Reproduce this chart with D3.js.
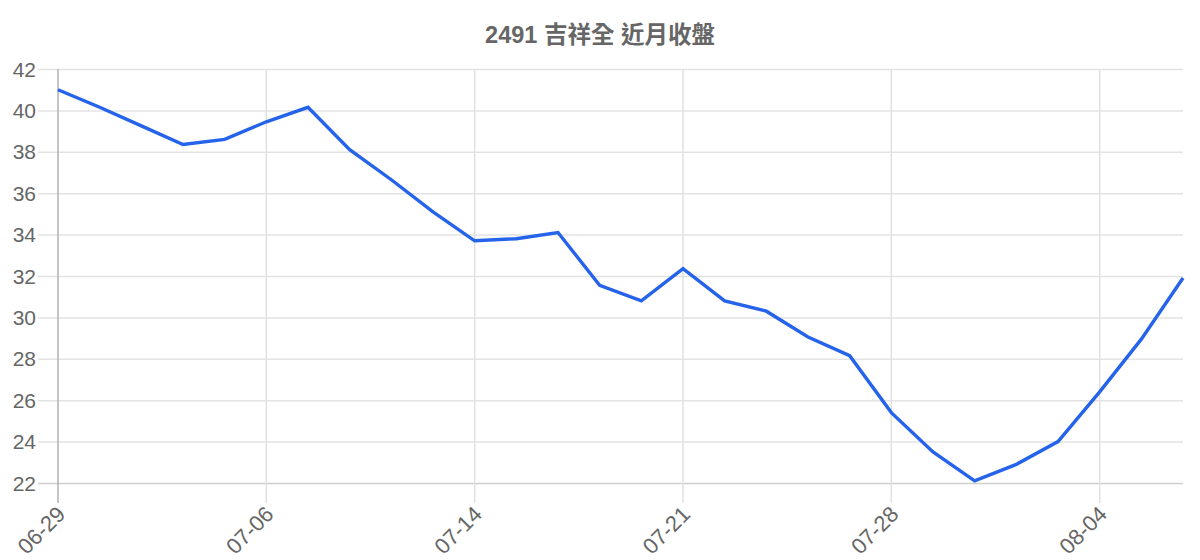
<!DOCTYPE html>
<html><head><meta charset="utf-8">
<script src="https://cdn.jsdelivr.net/npm/d3@7"></script>
<style>body{margin:0;background:#fff;} svg{display:block;}</style>
</head><body>
<svg id="c" width="1200" height="560"></svg>
<script>
const titleText = "2491 吉祥全 近月收盤";
const dates = ["06-29","06-30","07-01","07-02","07-03","07-06","07-07","07-08","07-09","07-10",
  "07-14","07-15","07-16","07-17","07-20","07-21","07-22","07-23","07-24","07-27",
  "07-28","07-29","07-30","07-31","08-03","08-04","08-05","08-06"];
const closes = [41.0,40.15,39.25,38.35,38.6,39.45,40.15,38.1,36.65,35.1,
  33.7,33.8,34.1,31.55,30.8,32.35,30.8,30.3,29.05,28.15,
  25.4,23.5,22.1,22.9,24.0,26.4,28.95,31.9];
const yTicks = [22,24,26,28,30,32,34,36,38,40,42];
const xTickLabels = ["06-29","07-06","07-14","07-21","07-28","08-04"];

const svg = d3.select("#c");
const m = {l:58, r:1183, t:69, b:483};
const x = d3.scalePoint().domain(dates).range([m.l, m.r]);
const y = d3.scaleLinear().domain([22,42]).range([m.b, m.t]);
const font = "'Liberation Sans', Arial, 'Noto Sans CJK TC', sans-serif";

// horizontal grid
svg.append("g").selectAll("line").data(yTicks).join("line")
  .attr("x1", 38).attr("x2", m.r)
  .attr("y1", d=>y(d)+0.5).attr("y2", d=>y(d)+0.5)
  .attr("stroke", d=> d===22 ? "#cfcfcf" : "#e3e3e3").attr("stroke-width",1.5);
// vertical grid
svg.append("g").selectAll("line").data(xTickLabels).join("line")
  .attr("x1", d=>x(d)).attr("x2", d=>x(d))
  .attr("y1", m.t).attr("y2", m.b+20)
  .attr("stroke", d=> d==="06-29" ? "#b0b0b0" : "#e0e0e0").attr("stroke-width",1.5);

// y labels
svg.append("g").selectAll("text").data(yTicks).join("text")
  .attr("x", 36).attr("y", d=>y(d)).attr("dy","0.36em")
  .attr("text-anchor","end").attr("fill","#666")
  .style("font-family",font).style("font-size","21px").text(d=>d);

// x labels
svg.append("g").selectAll("text").data(xTickLabels).join("text")
  .attr("transform", d=>`translate(${x(d)-3},${m.b+21}) rotate(-45)`)
  .attr("text-anchor","end").attr("dy","0.75em").attr("fill","#666")
  .style("font-family",font).style("font-size","22px").text(d=>d);

// line
const line = d3.line().x((d,i)=>x(dates[i])).y(d=>y(d));
svg.append("path").datum(closes).attr("d", line)
  .attr("fill","none").attr("stroke","#2563eb").attr("stroke-width",3.4)
  .attr("stroke-linejoin","miter");

// title
svg.append("text").attr("x", 600).attr("y", 43).attr("text-anchor","middle")
  .attr("fill","#666").style("font-family",font).style("font-size","23.5px")
  .style("font-weight","bold").text(titleText);
</script>
</body></html>
